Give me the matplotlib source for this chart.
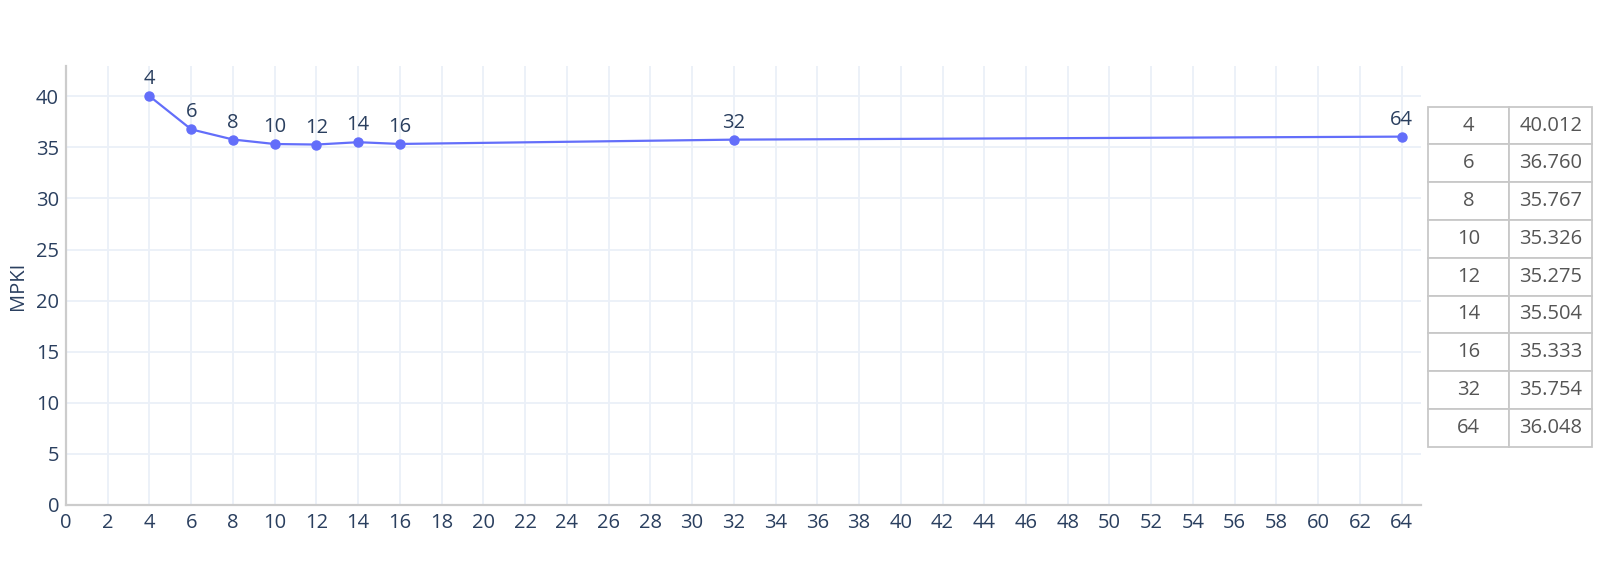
import numpy as np
import matplotlib.pyplot as plt

blockSizes = [4, 6, 8, 10, 12, 14, 16, 32, 64]
mpkiValues = [40.012, 36.760, 35.767, 35.326, 35.275, 35.504, 35.333, 35.754, 36.048]
xTicks = list(range(0, 65, 2))
yTicks = [0, 5, 10, 15, 20, 25, 30, 35, 40]

lineColor = "#636efa"
textColor = "#2a3f5f"
gridColor = "#ebf0f8"
axisColor = "#cccccc"

plt.rcParams['font.family'] = ['Open Sans', 'DejaVu Sans']

fig = plt.figure(figsize=(16, 5.71), dpi=100)
ax = fig.add_axes([0.04125, 0.1156, 0.8469, 0.7688])

ax.plot(blockSizes, mpkiValues, color=lineColor, linewidth=1.6, marker="o",
        markersize=6.5, zorder=3)
for x, y in zip(blockSizes, mpkiValues):
    ax.annotate(str(x), (x, y), xytext=(0, 5), textcoords="offset points",
                ha="center", va="bottom", fontsize=14.5, color=textColor)

ax.set_xlim(0, 64.93)
ax.set_ylim(0, 42.96)
ax.set_xticks(xTicks)
ax.set_yticks(yTicks)
ax.grid(True, color=gridColor, linewidth=1.3, zorder=0)
ax.set_axisbelow(True)
ax.tick_params(length=0, labelsize=14.5, labelcolor=textColor)
ax.tick_params(axis="x", pad=6)
ax.tick_params(axis="y", pad=5)
for side in ["top", "right"]:
    ax.spines[side].set_visible(False)
for side in ["left", "bottom"]:
    ax.spines[side].set_color(axisColor)
    ax.spines[side].set_linewidth(1.6)
ax.set_ylabel("MPKI", fontsize=14.5, color=textColor, labelpad=6)

# Side table with the values
tableAx = fig.add_axes([0.8923, 0.2177, 0.1029, 0.5954])
tableAx.axis("off")
cellText = [[str(b), "%.3f" % v] for b, v in zip(blockSizes, mpkiValues)]
tbl = tableAx.table(cellText=cellText, bbox=[0, 0, 1, 1], cellLoc="center",
                    colWidths=[0.494, 0.506])
tbl.auto_set_font_size(False)
for key, cell in tbl.get_celld().items():
    cell.set_edgecolor("#c8c8c8")
    cell.set_linewidth(1.3)
    cell.get_text().set_fontsize(14.5)
    cell.get_text().set_color("#555555")

fig.savefig("out.png", dpi=100)
